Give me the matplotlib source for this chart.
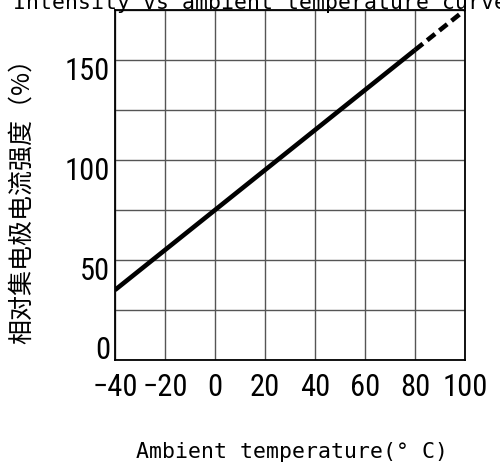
import matplotlib.pyplot as plt
from matplotlib import font_manager
from matplotlib.transforms import ScaledTranslation, blended_transform_factory

# data
temp_solid = [-40, 80]
intensity_solid = [35, 155]
temp_dashed = [80, 100]
intensity_dashed = [155, 175]

x_ticks = [-40, -20, 0, 20, 40, 60, 80, 100]
y_grid = [0, 25, 50, 75, 100, 125, 150, 175]
y_ticks = [0, 50, 100, 150]

title = "Intensity vs ambient temperature curve"
xlabel = "Ambient temperature(° C)"
ylabel = "相对集电极电流强度（%）"

mono = ["DejaVu Sans Mono", "Noto Sans CJK SC"]
cjk = ["Noto Sans CJK SC", "DejaVu Sans"]

# tick digits in the reference are tall and narrow; use a condensed face if one is around
narrow_font = None
for f in font_manager.fontManager.ttflist:
    if f.name in ("Liberation Sans Narrow", "Roboto Condensed", "Open Sans Condensed"):
        narrow_font = dict(family=f.name, fontsize=22)
        break
    if f.name == "DejaVu Sans" and f.stretch == "condensed":
        narrow_font = dict(family="DejaVu Sans", fontstretch="condensed", fontsize=21)
if narrow_font is None:
    narrow_font = dict(family="DejaVu Sans Mono", fontsize=18)

fig = plt.figure(figsize=(5.0, 4.63), dpi=100)
ax = fig.add_axes([115 / 500, 1 - 360 / 463, 350 / 500, 350 / 463])

ax.plot(temp_solid, intensity_solid, color="black", lw=3.3, solid_capstyle="butt")
ax.plot(temp_dashed, intensity_dashed, color="black", lw=3.3, ls=(0, (2.2, 1.2)))

ax.set_xlim(-40, 100)
ax.set_ylim(0, 175)
ax.set_xticks(x_ticks)
ax.set_yticks(y_grid)
ax.set_xticklabels([])
ax.set_yticklabels([])
ax.grid(True, color="#555555", lw=1.0)
ax.tick_params(length=0)
for sp in ax.spines.values():
    sp.set_linewidth(1.3)
    sp.set_color("black")

xtrans = blended_transform_factory(ax.transData, ax.transAxes)
for v in x_ticks:
    off = ScaledTranslation(0, -13 / 100, fig.dpi_scale_trans)
    ax.text(v, 0, str(v).replace("-", "\u2212"), ha="center", va="top",
            transform=xtrans + off, **narrow_font)

# y labels sit a little off the grid lines in the reference
ytrans = blended_transform_factory(ax.transAxes, ax.transData)
for v in y_ticks:
    if v == 0:
        va, dy = "bottom", -5
    else:
        va, dy = "top", 3
    off = ScaledTranslation(-5 / 100, dy / 100, fig.dpi_scale_trans)
    ax.text(0, v, str(v), ha="right", va=va, transform=ytrans + off, **narrow_font)

fig.text(260 / 500, 1 - 9 / 463, title, ha="center", va="baseline",
         fontsize=15.5, family=mono)
fig.text(292 / 500, 1 - 458 / 463, xlabel, ha="center", va="baseline",
         fontsize=15.5, family=mono)
fig.text(22 / 500, 1 - 195 / 463, ylabel, ha="center", va="center",
         rotation=90, fontsize=18, family=cjk)

fig.savefig("out.png", dpi=100)
